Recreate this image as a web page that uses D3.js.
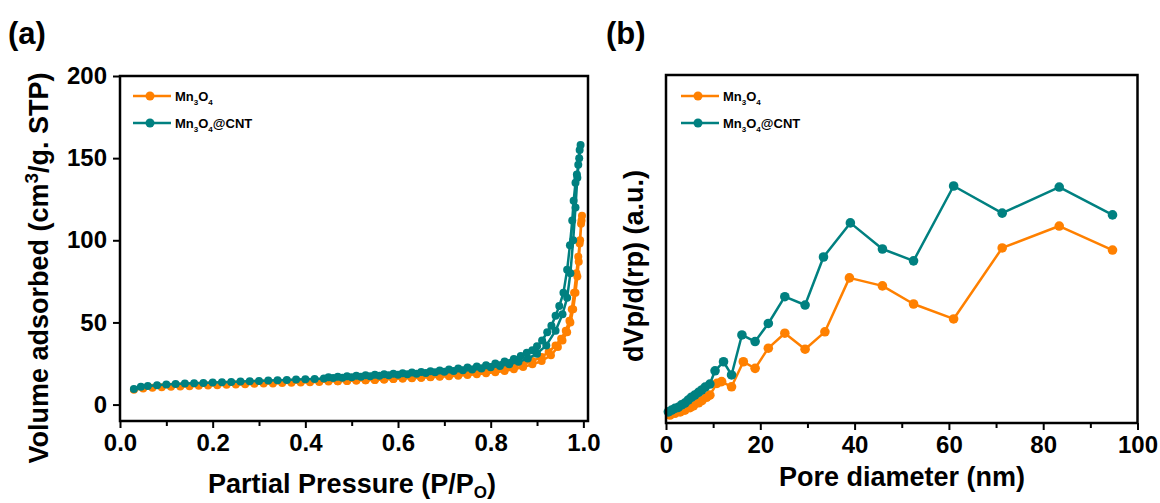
<!DOCTYPE html>
<html>
<head>
<meta charset="utf-8">
<script src="https://cdn.jsdelivr.net/npm/d3@7/dist/d3.min.js"></script>
<style>
  body { margin: 0; background: #fff; }
  svg { display: block; font-family: Arial, "Liberation Sans", sans-serif; }
</style>
</head>
<body>
<div id="chart"></div>
<script>
// ---- data: (a) N2 isotherm, adsorption then desorption branch ----
var mnP = [0.03, 0.05, 0.07, 0.09, 0.11, 0.13, 0.15, 0.17, 0.19, 0.21, 0.23, 0.25, 0.27, 0.29, 0.31, 0.33, 0.35, 0.37, 0.39, 0.41,
           0.43, 0.45, 0.47, 0.49, 0.51, 0.53, 0.55, 0.57, 0.59, 0.61, 0.63, 0.65, 0.67, 0.69, 0.71, 0.73, 0.75, 0.77, 0.79, 0.81,
           0.83, 0.85, 0.87, 0.89, 0.91, 0.93, 0.945, 0.955, 0.965, 0.972, 0.978, 0.983, 0.987, 0.99, 0.993, 0.996, 0.997,
           0.995, 0.992, 0.989, 0.985, 0.98, 0.975, 0.97, 0.962, 0.952, 0.94, 0.925, 0.91, 0.89, 0.87, 0.85, 0.83, 0.81, 0.79,
           0.77, 0.75, 0.73, 0.71, 0.69, 0.67, 0.65, 0.63, 0.61, 0.59, 0.57, 0.55, 0.53, 0.51, 0.49, 0.47];
var mnV = [9.0, 9.8, 10.2, 10.5, 10.8, 11.0, 11.2, 11.4, 11.6, 11.8, 12.0, 12.2, 12.4, 12.6, 12.8, 12.9, 13.1, 13.3, 13.4, 13.6,
           13.8, 14.0, 14.2, 14.4, 14.6, 14.8, 15.0, 15.3, 15.5, 15.8, 16.0, 16.3, 16.6, 16.9, 17.2, 17.6, 18.0, 18.5, 19.0, 19.7,
           20.5, 21.5, 22.8, 24.5, 26.5, 30, 35, 39, 44, 50, 58, 68, 78, 87, 100, 112, 115,
           110, 98, 90, 80, 68, 58, 51, 45, 40, 36, 32, 29, 26.5, 24.5, 23.0, 21.8, 20.8, 20.0,
           19.3, 18.7, 18.1, 17.6, 17.2, 16.8, 16.4, 16.1, 15.8, 15.5, 15.2, 15.0, 14.8, 14.6, 14.4, 14.2];

var cntP = [0.03, 0.045, 0.06, 0.08, 0.10, 0.12, 0.14, 0.16, 0.18, 0.20, 0.22, 0.24, 0.26, 0.28, 0.30, 0.32, 0.34, 0.36, 0.38, 0.40,
            0.42, 0.44, 0.46, 0.48, 0.50, 0.52, 0.54, 0.56, 0.58, 0.60, 0.62, 0.64, 0.66, 0.68, 0.70, 0.72, 0.74, 0.76, 0.78, 0.80,
            0.82, 0.84, 0.86, 0.88, 0.90, 0.92, 0.94, 0.955, 0.965, 0.972, 0.978, 0.983, 0.987, 0.991, 0.994,
            0.992, 0.989, 0.986, 0.983, 0.979, 0.976, 0.971, 0.965, 0.957, 0.948, 0.94, 0.931, 0.922, 0.911, 0.90, 0.89, 0.878,
            0.865, 0.85, 0.83, 0.81, 0.79, 0.77, 0.75, 0.73, 0.71, 0.69, 0.67, 0.65, 0.63, 0.61, 0.59, 0.57, 0.55, 0.53,
            0.51, 0.49, 0.47, 0.45];
var cntV = [9.5, 10.8, 11.3, 11.8, 12.2, 12.5, 12.8, 13.0, 13.2, 13.4, 13.6, 13.8, 14.0, 14.2, 14.4, 14.6, 14.8, 15.0, 15.2, 15.4,
            15.6, 15.9, 16.1, 16.4, 16.7, 17.0, 17.3, 17.6, 17.9, 18.2, 18.5, 18.8, 19.2, 19.6, 20.0, 20.4, 20.9, 21.4, 22.0, 22.7,
            23.5, 24.5, 26, 28, 31, 36, 45, 55, 65, 80, 100, 120, 138, 150, 158,
            155, 146, 140, 135, 124, 112, 97, 82, 68, 60, 54, 48, 44, 39, 35.5, 33, 31.5,
            29.5, 27.8, 26.2, 25.0, 24.0, 23.2, 22.5, 21.9, 21.3, 20.8, 20.3, 19.9, 19.5, 19.1, 18.8, 18.5, 18.2, 17.9,
            17.6, 17.3, 17.0, 16.7];

// ---- data: (b) pore size distribution ----
var mnD = [0.85, 1.9, 3.0, 4.0, 5.1, 5.8, 6.9, 7.6, 8.6, 9.3, 10.8, 11.8, 13.9, 16.4, 18.9, 21.7, 25.2, 29.5, 33.7, 38.9, 45.9, 52.5, 61.0, 71.3, 83.4, 94.7];
var mnDV = [2.3, 2.8, 3.2, 3.7, 4.4, 4.9, 5.8, 6.4, 7.4, 8.0, 11.4, 11.9, 10.4, 17.6, 15.7, 21.5, 25.8, 21.2, 26.2, 41.7, 39.4, 34.2, 29.9, 50.3, 56.6, 49.7];
var cntD = [0.5, 1.2, 1.9, 2.6, 3.3, 4.0, 4.7, 5.4, 6.1, 6.9, 7.6, 8.3, 9.3, 10.4, 12.2, 13.9, 16.1, 18.9, 21.7, 25.2, 29.5, 33.4, 39.1, 45.9, 52.5, 61.0, 71.3, 83.4, 94.7];
var cntDV = [3.2, 3.7, 4.2, 4.5, 5.2, 5.7, 6.6, 7.4, 8.0, 8.8, 9.5, 10.3, 11.2, 15.0, 17.6, 13.8, 25.3, 23.4, 28.6, 36.3, 33.9, 47.7, 57.5, 50.0, 46.6, 68.1, 60.3, 67.8, 59.8];

var seriesNames = ['Mn3O4', 'Mn3O4@CNT'];
var colors = ['#ff8000', '#008080'];
var xTicksA = [0, 0.2, 0.4, 0.6, 0.8, 1.0];
var yTicksA = [0, 50, 100, 150, 200];
var xTicksB = [0, 20, 40, 60, 80, 100];

var width = 1160;
var height = 503;

var svg = d3.select('#chart')
            .append('svg')
            .attr('width', width)
            .attr('height', height);

function zip(xs, ys) { return xs.map(function(x, i) { return [x, ys[i]]; }); }

// scales for one framed panel
function panel(box, xDomain, yDomain) {
    let x = d3.scaleLinear().domain(xDomain).range([box.left, box.right]);
    let y = d3.scaleLinear().domain(yDomain).range([box.bottom, box.top]);
    return { x: x, y: y, box: box };
}

function frame(p) {
    svg.append('rect')
        .attr('x', p.box.left)
        .attr('y', p.box.top)
        .attr('width', p.box.right - p.box.left)
        .attr('height', p.box.bottom - p.box.top)
        .attr('fill', 'none')
        .attr('stroke', '#000')
        .attr('stroke-width', 2.5);
}

function bottomAxis(p, majors, fmt) {
    let minors = [];
    for (let i = 0; i < majors.length - 1; i++) minors.push((majors[i] + majors[i + 1]) / 2);
    let g = svg.append('g').attr('transform', 'translate(0,' + p.box.bottom + ')');
    g.call(d3.axisBottom(p.x).tickValues(majors).tickSize(7).tickPadding(6).tickFormat(fmt));
    g.call(function(s) { s.select('.domain').remove(); });
    g.selectAll('.tick line').attr('stroke-width', 2);
    g.selectAll('.tick text')
        .attr('font-size', 24)
        .attr('font-weight', 'bold')
        .attr('fill', '#000');
    let m = svg.append('g').attr('transform', 'translate(0,' + p.box.bottom + ')');
    m.call(d3.axisBottom(p.x).tickValues(minors).tickSize(5).tickFormat(''));
    m.call(function(s) { s.select('.domain').remove(); });
    m.selectAll('.tick line').attr('stroke-width', 2);
}

function series(p, pts, color, r, w) {
    let line = d3.line().x(function(d) { return p.x(d[0]); }).y(function(d) { return p.y(d[1]); });
    svg.append('path')
        .datum(pts)
        .attr('d', line)
        .attr('fill', 'none')
        .attr('stroke', color)
        .attr('stroke-width', w)
        .attr('stroke-linejoin', 'round');
    svg.append('g')
        .selectAll('circle')
        .data(pts)
        .enter()
        .append('circle')
        .attr('cx', function(d) { return p.x(d[0]); })
        .attr('cy', function(d) { return p.y(d[1]); })
        .attr('r', r)
        .attr('fill', color);
}

function legend(x0, y0, gap) {
    seriesNames.forEach(function(name, i) {
        let yy = y0 + i * gap;
        svg.append('line')
            .attr('x1', x0).attr('x2', x0 + 38)
            .attr('y1', yy).attr('y2', yy)
            .attr('stroke', colors[i]).attr('stroke-width', 2.5);
        svg.append('circle')
            .attr('cx', x0 + 17).attr('cy', yy).attr('r', 4.5)
            .attr('fill', colors[i]);
        let t = svg.append('text')
            .attr('x', x0 + 42).attr('y', yy + 5)
            .attr('font-size', 13)
            .attr('font-weight', 'bold')
            .attr('fill', '#000');
        t.append('tspan').text('Mn');
        t.append('tspan').text('3').attr('font-size', 8).attr('dy', 4);
        t.append('tspan').text('O').attr('dy', -4);
        t.append('tspan').text('4').attr('font-size', 8).attr('dy', 4);
        if (name.indexOf('@') > 0) t.append('tspan').text('@CNT').attr('dy', -4);
    });
}

// ---------- panel (a) ----------
var pa = panel({ left: 120, right: 588, top: 76, bottom: 421 }, [0, 1.01], [-10, 200]);

series(pa, zip(mnP, mnV), colors[0], 4, 2.5);
series(pa, zip(cntP, cntV), colors[1], 4, 2.5);
frame(pa);
bottomAxis(pa, xTicksA, d3.format('.1f'));

var ya = svg.append('g').attr('transform', 'translate(' + pa.box.left + ',0)');
ya.call(d3.axisLeft(pa.y).tickValues(yTicksA).tickSize(7).tickPadding(6));
ya.select('.domain').remove();
ya.selectAll('.tick line').attr('stroke-width', 2);
ya.selectAll('.tick text').attr('font-size', 24).attr('font-weight', 'bold').attr('fill', '#000');

legend(133, 96, 27);

var xta = svg.append('text')
    .attr('x', 352).attr('y', 493)
    .attr('text-anchor', 'middle')
    .attr('font-size', 27).attr('font-weight', 'bold');
xta.append('tspan').text('Partial Pressure (P/P');
xta.append('tspan').text('O').attr('font-size', 17).attr('dy', 5);
xta.append('tspan').text(')').attr('dy', -5);

var yta = svg.append('text')
    .attr('transform', 'translate(48,268) rotate(-90)')
    .attr('text-anchor', 'middle')
    .attr('font-size', 27).attr('font-weight', 'bold');
yta.append('tspan').text('Volume adsorbed (cm');
yta.append('tspan').text('3').attr('font-size', 19).attr('dy', -10);
yta.append('tspan').text('/g. STP)').attr('dy', 10);

svg.append('text').attr('x', 8).attr('y', 44)
    .attr('font-size', 31).attr('font-weight', 'bold').text('(a)');

// ---------- panel (b) ----------
var pb = panel({ left: 666, right: 1137.5, top: 75, bottom: 423 }, [0, 100], [0, 100]);

series(pb, zip(mnD, mnDV), colors[0], 4.8, 2.5);
series(pb, zip(cntD, cntDV), colors[1], 4.8, 2.5);
frame(pb);
bottomAxis(pb, xTicksB, d3.format('d'));

legend(681, 96, 27);

svg.append('text')
    .attr('x', 902).attr('y', 486)
    .attr('text-anchor', 'middle')
    .attr('font-size', 27).attr('font-weight', 'bold')
    .text('Pore diameter (nm)');

svg.append('text')
    .attr('transform', 'translate(643,266) rotate(-90)')
    .attr('text-anchor', 'middle')
    .attr('font-size', 27).attr('font-weight', 'bold')
    .text('dVp/d(rp) (a.u.)');

svg.append('text').attr('x', 606).attr('y', 44)
    .attr('font-size', 31).attr('font-weight', 'bold').text('(b)');
</script>
</body>
</html>
